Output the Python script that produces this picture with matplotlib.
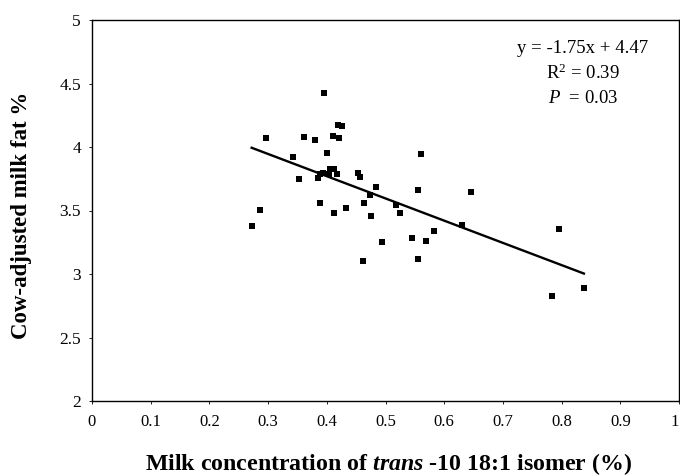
import matplotlib
matplotlib.use("Agg")
import matplotlib.pyplot as plt
import numpy as np

plt.rcParams['font.family'] = ['Liberation Serif', 'DejaVu Serif']
plt.rcParams['mathtext.fontset'] = 'custom'
plt.rcParams['mathtext.rm'] = 'Liberation Serif'
plt.rcParams['mathtext.it'] = 'Liberation Serif:italic'
plt.rcParams['mathtext.bf'] = 'Liberation Serif:bold'
plt.rcParams['mathtext.bfit'] = 'Liberation Serif:bold:italic'

# Data
trans10 = [0.272, 0.286, 0.296, 0.342, 0.352, 0.361, 0.380,
           0.385, 0.388, 0.393, 0.404, 0.406, 0.413, 0.418,
           0.389, 0.396, 0.400, 0.411, 0.419, 0.426, 0.420,
           0.413, 0.432, 0.454, 0.457, 0.462, 0.464, 0.475,
           0.474, 0.484, 0.494, 0.518, 0.525, 0.545, 0.555,
           0.555, 0.560, 0.569, 0.583, 0.631, 0.646, 0.784,
           0.796, 0.838]
milk_fat = [3.378, 3.504, 4.073, 3.923, 3.745, 4.080, 4.054,
            3.758, 3.790, 3.795, 3.790, 3.824, 3.824, 3.785,
            3.562, 4.424, 3.950, 4.088, 4.177, 4.164, 4.067,
            3.480, 3.520, 3.798, 3.763, 3.106, 3.558, 3.458,
            3.625, 3.682, 3.250, 3.546, 3.478, 3.281, 3.664,
            3.119, 3.944, 3.263, 3.342, 3.386, 3.643, 2.826,
            3.352, 2.891]
slope = -1.75
intercept = 4.47
x_ticks = [0, 0.1, 0.2, 0.3, 0.4, 0.5, 0.6, 0.7, 0.8, 0.9, 1]
x_tick_labels = ['0', '0.1', '0.2', '0.3', '0.4', '0.5', '0.6', '0.7', '0.8', '0.9', '1']
y_ticks = [2, 2.5, 3, 3.5, 4, 4.5, 5]
y_tick_labels = ['2', '2.5', '3', '3.5', '4', '4.5', '5']

W, H = 680, 476
fig = plt.figure(figsize=(W / 100, H / 100), dpi=100)
ax = fig.add_axes([92/W, 1 - 401/H, (679 - 92)/W, (401 - 20)/H])

ax.scatter(trans10, milk_fat, marker='s', s=18, color='black', linewidths=0, zorder=3)

xl = np.array([min(trans10), max(trans10)])
ax.plot(xl, slope * xl + intercept, color='black', linewidth=1.7, zorder=2)

ax.set_xlim(0, 1)
ax.set_ylim(2, 5)
ax.set_xticks(x_ticks)
ax.set_xticklabels(x_tick_labels)
ax.set_yticks(y_ticks)
ax.set_yticklabels(y_tick_labels)
ax.tick_params(axis='both', length=2, width=0.6, colors='black')
ax.tick_params(axis='x', pad=7, labelsize=12)
ax.tick_params(axis='y', pad=6, labelsize=12.5)
# keep the last x tick label inside the figure edge
ax.get_xticklabels()[-1].set_horizontalalignment('right')
for s in ax.spines.values():
    s.set_linewidth(1.0)
    s.set_color('black')

fig.text(388/W, 1 - 470/H,
         r'Milk concentration of $\mathbfit{trans}$ -10 18:1 isomer (%)',
         fontsize=17.2, fontweight='bold', ha='center', va='baseline')
fig.text(22/W, 1 - 215.5/H, 'Cow-adjusted milk fat %', fontsize=16.5,
         fontweight='bold', rotation=90, ha='center', va='center')

ax.text(0.836, 4.775, 'y = -1.75x + 4.47', ha='center', va='center', fontsize=13.5)
ax.text(0.836, 4.58, r'R$^{2}$ = 0.39', ha='center', va='center', fontsize=13.5)
ax.text(0.836, 4.385, r'$P$  = 0.03', ha='center', va='center', fontsize=13.5)

fig.savefig('out.png', dpi=100)
